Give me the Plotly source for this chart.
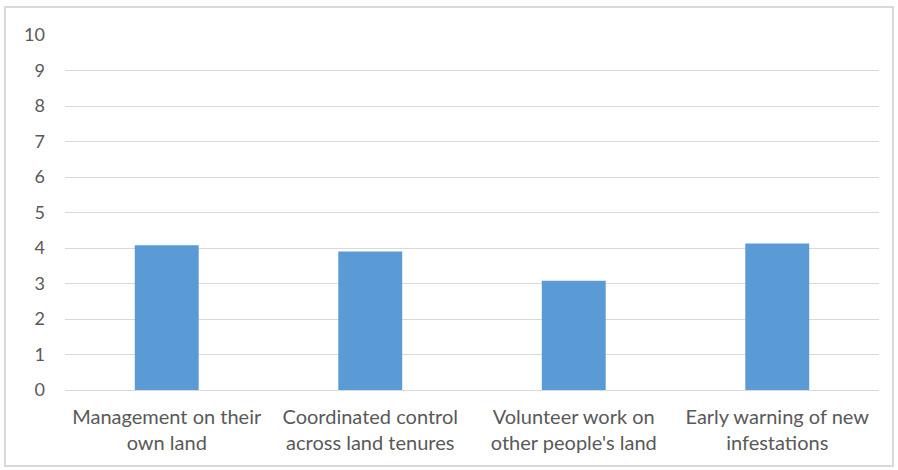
import plotly.graph_objects as go

categories = ["Management on their<br>own land", "Coordinated control<br>across land tenures",
              "Volunteer work on<br>other people's land", "Early warning of new<br>infestations"]
values = [4.08, 3.9, 3.08, 4.13]
y_ticks = list(range(0, 11))

W, H = 898, 470
ml, mr, mt, mb = 65, 19, 35, 80

fig = go.Figure(go.Bar(x=categories, y=values, marker=dict(color="#5b9bd5", line=dict(width=0)),
                       width=0.314))

fig.update_layout(
    width=W, height=H,
    margin=dict(l=ml, r=mr, t=mt, b=mb),
    paper_bgcolor="white", plot_bgcolor="white",
    font=dict(family="Lato, Open Sans, sans-serif", color="#595959", size=17),
    showlegend=False,
    xaxis=dict(showgrid=False, showline=False, ticks="", tickfont=dict(size=20),
               ticklabelstandoff=13),
    yaxis=dict(range=[0, 10], tickvals=y_ticks, showgrid=True, gridcolor="#d9d9d9", gridwidth=1,
               zeroline=True, zerolinecolor="#d9d9d9", zerolinewidth=1, showline=False,
               ticks="", ticklabelstandoff=19, tickfont=dict(size=18)),
)

# chart border
pw = W - ml - mr
ph = H - mt - mb
x0 = (5 - ml) / pw
x1 = (893 - ml) / pw
y1 = (H - mb - 7) / ph
y0 = (H - mb - 466) / ph
fig.add_shape(type="rect", xref="paper", yref="paper", x0=x0, x1=x1, y0=y0, y1=y1,
              line=dict(color="#d9d9d9", width=2), fillcolor="rgba(0,0,0,0)", layer="below")

fig.write_html("out.html")
